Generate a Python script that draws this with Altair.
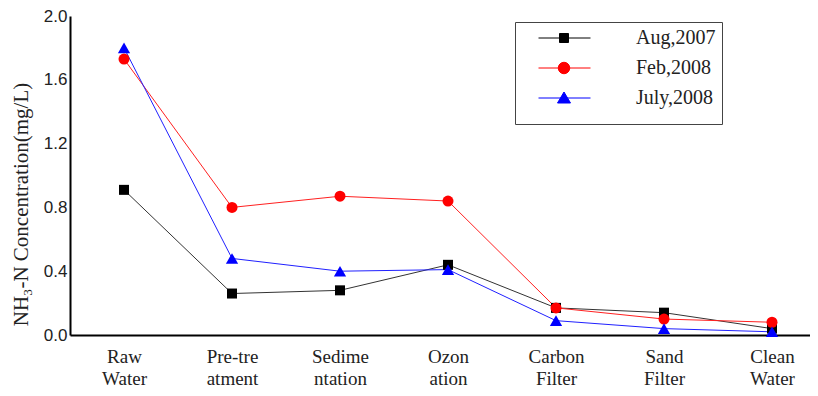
import altair as alt
import pandas as pd

categories = ["Raw|Water", "Pre-tre|atment", "Sedime|ntation", "Ozon|ation",
              "Carbon|Filter", "Sand|Filter", "Clean|Water"]
series_names = ["Aug,2007", "Feb,2008", "July,2008"]
aug_2007 = [0.91, 0.26, 0.28, 0.44, 0.17, 0.14, 0.04]
feb_2008 = [1.73, 0.80, 0.87, 0.84, 0.17, 0.10, 0.08]
july_2008 = [1.80, 0.48, 0.40, 0.41, 0.09, 0.04, 0.02]
y_ticks = [0.0, 0.4, 0.8, 1.2, 1.6, 2.0]

colors = ["#000000", "#ff0000", "#0000ff"]
line_colors = ["#333333", "#ff2020", "#2020ff"]
shapes = ["square", "circle", "triangle-up"]
sizes = [100, 121, 150]
# legend symbols: a horizontal line through the marker (unit = sqrt(symbolSize)/2 px)
legend_paths = [
    "M-5.1,0H5.3M-0.9,-0.9H0.9V0.9H-0.9Z",
    "M-5.1,0H5.3M-1.15,0A1.15,1.15,0,1,1,1.15,0A1.15,1.15,0,1,1,-1.15,0Z",
    "M-5.1,0H5.3M0,-1.2L1.3,1L-1.3,1Z",
]

rows = []
for name, vals in zip(series_names, [aug_2007, feb_2008, july_2008]):
    for c, v in zip(categories, vals):
        rows.append({"category": c, "series": name, "value": v})
df = pd.DataFrame(rows)

x_enc = alt.X(
    "category:N",
    sort=categories,
    scale=alt.Scale(type="point", domain=categories, padding=0.426, align=0.587),
    axis=alt.Axis(
        title=None, labelAngle=0, labelFont="Liberation Serif", labelFontSize=19,
        labelColor="#222222", labelLineHeight=22, labelPadding=12, labelBaseline="top",
        labelExpr="split(datum.label, '|')", domainColor="black", domainWidth=2,
    ),
)
y_enc = alt.Y(
    "value:Q",
    scale=alt.Scale(domain=[0, 2.0], nice=False, zero=True),
    axis=alt.Axis(
        values=y_ticks, format=".1f", labelFont="Liberation Sans", labelFontSize=17,
        labelColor="#222222", labelPadding=3,
        title="NH₃-N Concentration(mg/L)", titleFont="Liberation Serif",
        titleFontSize=21, titleFontWeight="normal", titleColor="#222222",
        titleX=-43, titleY=188, titleBaseline="alphabetic", titleAlign="center",
        domainColor="black", domainWidth=2,
    ),
)

base = alt.Chart(df)

line_layers = []
point_layers = []
for name, lc, col, shp, sz in zip(series_names, line_colors, colors, shapes, sizes):
    sub = base.transform_filter(alt.datum.series == name)
    line_layers.append(sub.mark_line(strokeWidth=1, color=lc).encode(x=x_enc, y=y_enc))
    point_layers.append(
        sub.mark_point(shape=shp, filled=True, opacity=1, size=sz, color=col)
        .encode(x=x_enc, y=y_enc)
    )

legend = alt.Legend(
    title=" ", titleOrient="bottom", titleFontSize=10, titlePadding=0,
    orient="none", legendX=445, legendY=6, padding=6,
    fillColor="white", strokeColor="#444444", symbolSize=100, symbolStrokeWidth=1,
    symbolOpacity=1, symbolOffset=33, labelOffset=62, labelFont="Liberation Serif",
    labelFontSize=20, labelColor="#222222", rowPadding=10, labelLimit=200,
)
legend_layer = base.mark_point(filled=True, opacity=0).encode(
    x=x_enc, y=y_enc,
    fill=alt.Fill("series:N", scale=alt.Scale(domain=series_names, range=colors), legend=legend),
    stroke=alt.Stroke("series:N", scale=alt.Scale(domain=series_names, range=colors), legend=legend),
    shape=alt.Shape("series:N", scale=alt.Scale(domain=series_names, range=legend_paths), legend=legend),
)

chart = alt.layer(*line_layers, *point_layers, legend_layer).properties(
    width=740, height=319,
    autosize=alt.AutoSizeParams(type="none"),
    padding={"left": 62, "top": 8, "right": 0, "bottom": 53},
).configure_axis(grid=False, ticks=False).configure_view(stroke=None)

chart.save("out.html", embed_options={"renderer": "svg", "actions": False})
